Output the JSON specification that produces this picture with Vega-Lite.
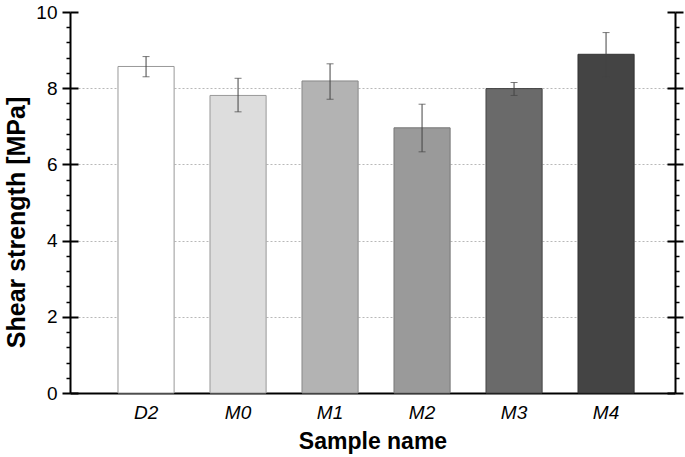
{
  "$schema": "https://vega.github.io/schema/vega-lite/v6.json",
  "width": 605,
  "height": 381,
  "autosize": "none",
  "padding": {"left": 70, "top": 12, "right": 10, "bottom": 64},
  "background": "white",
  "config": {"view": {"stroke": null}, "font": "Liberation Sans"},
  "data": {"values": [
    {"name": "D2", "strength": 8.57, "lo": 8.30, "hi": 8.83},
    {"name": "M0", "strength": 7.81, "lo": 7.38, "hi": 8.26},
    {"name": "M1", "strength": 8.19, "lo": 7.71, "hi": 8.64},
    {"name": "M2", "strength": 6.96, "lo": 6.33, "hi": 7.58},
    {"name": "M3", "strength": 7.99, "lo": 7.81, "hi": 8.15},
    {"name": "M4", "strength": 8.89, "lo": 8.29, "hi": 9.46}
  ]},
  "resolve": {"axis": {"y": "independent"}},
  "layer": [
    {
      "mark": {"type": "bar", "strokeWidth": 1},
      "encoding": {
        "x": {"field": "name", "type": "nominal", "sort": null,
          "scale": {"paddingInner": 0.39, "paddingOuter": 0.483, "align": 0.54},
          "axis": {"title": "Sample name", "titleFont": "Liberation Sans", "titleFontSize": 23, "titleFontWeight": "bold", "titleColor": "black", "titlePadding": 8,
            "labelAngle": 0, "labelFontSize": 19, "labelFontStyle": "italic", "labelColor": "black", "labelPadding": 10,
            "ticks": false, "domainColor": "black", "domainWidth": 2}},
        "y": {"field": "strength", "type": "quantitative",
          "scale": {"domain": [0, 10], "nice": false},
          "axis": {"orient": "left", "title": "Shear strength [MPa]", "titleFontSize": 25, "titleFontWeight": "bold", "titleColor": "black", "titlePadding": 6, "titleY": 210,
            "values": [0,0.4,0.8,1.2,1.6,2,2.4,2.8,3.2,3.6,4,4.4,4.8,5.2,5.6,6,6.4,6.8,7.2,7.6,8,8.4,8.8,9.2,9.6,10],
            "labelExpr": "datum.value % 2 === 0 ? format(datum.value, 'd') : ''",
            "labelFontSize": 19, "labelColor": "black", "labelPadding": 5,
            "tickSize": {"condition": {"test": "datum.value % 2 === 0", "value": 8}, "value": 4},
            "tickColor": "black", "tickWidth": {"condition": {"test": "datum.value % 2 === 0", "value": 2}, "value": 1.5},
            "domainColor": "black", "domainWidth": 2,
            "grid": true, "gridColor": "#b8b8b8", "gridDash": [2, 2], "gridWidth": 1,
            "gridOpacity": {"condition": {"test": "datum.value % 2 === 0 && datum.value > 0 && datum.value < 10", "value": 1}, "value": 0}}},
        "fill": {"field": "name", "type": "nominal", "legend": null,
          "scale": {"domain": ["D2","M0","M1","M2","M3","M4"], "range": ["#ffffff","#dddddd","#b3b3b3","#9a9a9a","#6a6a6a","#444444"]}},
        "stroke": {"field": "name", "type": "nominal", "legend": null,
          "scale": {"domain": ["D2","M0","M1","M2","M3","M4"], "range": ["#999999","#999999","#888888","#777777","#444444","#333333"]}}
      }
    },
    {
      "mark": {"type": "rule", "color": "#444444", "strokeWidth": 1},
      "encoding": {
        "x": {"field": "name", "type": "nominal", "sort": null},
        "y": {"field": "lo", "type": "quantitative", "scale": {"domain": [0, 10], "nice": false},
          "axis": {"orient": "right", "title": null, "labels": false,
            "values": [0,0.4,0.8,1.2,1.6,2,2.4,2.8,3.2,3.6,4,4.4,4.8,5.2,5.6,6,6.4,6.8,7.2,7.6,8,8.4,8.8,9.2,9.6,10],
            "tickSize": {"condition": {"test": "datum.value % 2 === 0", "value": 8}, "value": 4},
            "tickColor": "black", "tickWidth": {"condition": {"test": "datum.value % 2 === 0", "value": 2}, "value": 1.5},
            "domainColor": "black", "domainWidth": 2, "grid": false}},
        "y2": {"field": "hi"}
      }
    },
    {
      "mark": {"type": "tick", "color": "#444444", "thickness": 1, "size": 7},
      "encoding": {
        "x": {"field": "name", "type": "nominal", "sort": null},
        "y": {"field": "lo", "type": "quantitative", "scale": {"domain": [0, 10], "nice": false},
          "axis": {"orient": "left", "title": null, "labels": false, "domain": false, "grid": false,
            "values": [0, 2, 4, 6, 8, 10], "tickSize": -8, "tickColor": "black", "tickWidth": 2}}
      }
    },
    {
      "mark": {"type": "tick", "color": "#444444", "thickness": 1, "size": 7},
      "encoding": {
        "x": {"field": "name", "type": "nominal", "sort": null},
        "y": {"field": "hi", "type": "quantitative", "scale": {"domain": [0, 10], "nice": false},
          "axis": {"orient": "right", "title": null, "labels": false, "domain": false, "grid": false,
            "values": [0, 2, 4, 6, 8, 10], "tickSize": -8, "tickColor": "black", "tickWidth": 2}}
      }
    }
  ]
}
